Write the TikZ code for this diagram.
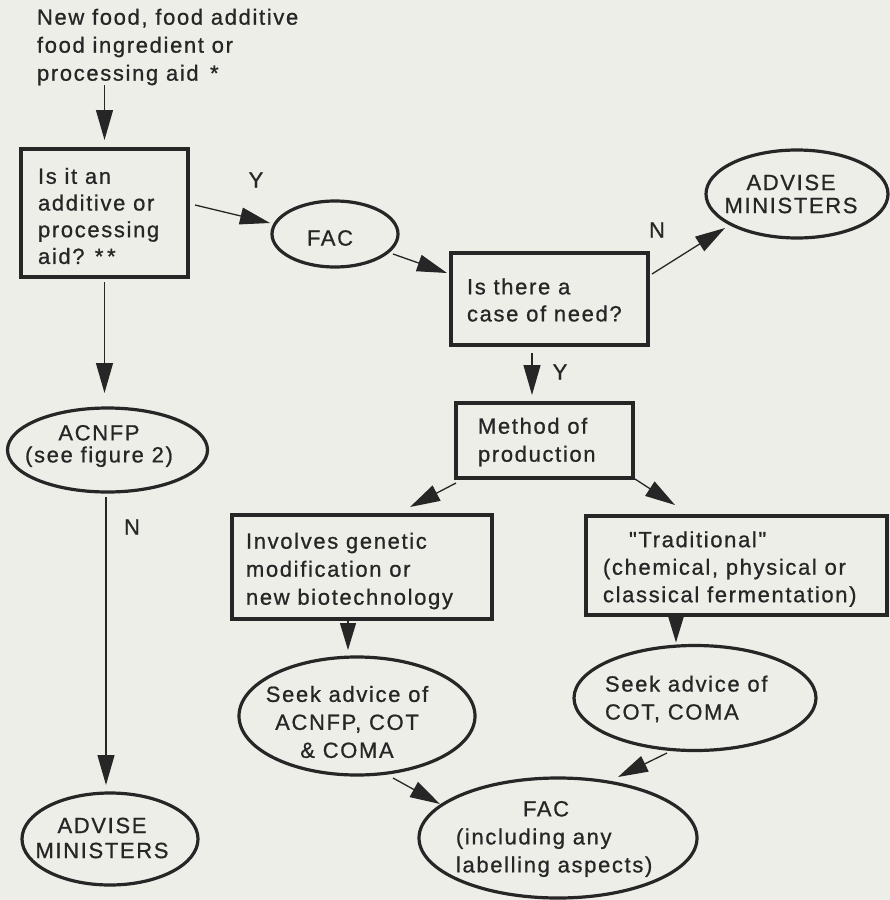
\documentclass[tikz,border=0pt]{standalone}
\usepackage{fontspec}
\setmainfont{Liberation Sans}[LetterSpace=7.5,FakeBold=0.8,Ligatures=TeXOff]
\usetikzlibrary{arrows.meta,shapes.geometric,calc}
\definecolor{paper}{HTML}{EDEEE7}
\definecolor{ink}{HTML}{262626}
\begin{document}
\begin{tikzpicture}[x=1bp,y=-1bp,
  box/.style={draw=ink, line width=3.2bp, rectangle, inner sep=0pt, outer sep=0pt},
  ell/.style={draw=ink, line width=3.2bp, ellipse, inner sep=0pt, outer sep=0pt},
  txt/.style={inner sep=0pt, outer sep=0pt, text=ink, align=left, font=\fontsize{22bp}{#1}\selectfont},
  txt/.default=27bp,
  ctxt/.style={txt=#1, align=center},
  ctxt/.default=27bp,
  lbl/.style={inner sep=0pt, text=ink, font=\fontsize{22bp}{26bp}\selectfont},
  arr/.style={draw=ink, line width=1.3bp, -{Triangle[length=30bp,width=17bp]}},
  arrs/.style={draw=ink, line width=1.3bp, -{Triangle[length=27bp,width=16bp]}}
]
\fill[paper] (0,0) rectangle (890,900);
\useasboundingbox (0,0) rectangle (890,900);

% top text
\node[txt=28bp, anchor=west] (topt) at (37,47) {New food, food additive\\food ingredient or\\processing aid \,*};

% boxes
\node[box, minimum width=167bp, minimum height=128bp] (box1) at (104.5,213) {};
\node[txt=26.7bp, anchor=west] (box1t) at (38,216) {Is it an\\additive or\\processing\\aid? *\,*};

\node[box, minimum width=197bp, minimum height=92bp] (box2) at (549.5,299) {};
\node[txt, anchor=west] (box2t) at (467,300) {Is there a\\case of need?};

\node[box, minimum width=177bp, minimum height=75bp] (box3) at (544.5,440.5) {};
\node[txt=28bp, anchor=west] (box3t) at (478,442) {Method of\\production};

\node[box, minimum width=260bp, minimum height=104bp] (box4) at (362,567) {};
\node[txt=28bp, anchor=west] (box4t) at (246,571) {Involves genetic\\modification or\\new biotechnology};

\node[box, minimum width=301bp, minimum height=99bp] (box5) at (736.5,565.5) {};
\node[txt=27.5bp, anchor=west] (box5t) at (603,569) {\hspace*{26bp}"Traditional"\\(chemical, physical or\\classical fermentation)};

% ellipses
\node[ell, minimum width=126bp, minimum height=66bp] (fac1) at (335,234) {};
\node[ctxt] (fac1t) at (330,238) {FAC};

\node[ell, minimum width=182bp, minimum height=88bp] (advTop) at (797,194) {};
\node[ctxt=23bp] (advTopt) at (791,194) {ADVISE\\MINISTERS};

\node[ell, minimum width=200bp, minimum height=84bp] (acnfp) at (107.5,450) {};
\node[ctxt=22bp] (acnfpt) at (99,446) {ACNFP\\(see figure 2)};

\node[ell, minimum width=176bp, minimum height=92bp] (advBot) at (110,839) {};
\node[ctxt=25bp] (advBott) at (102,838) {ADVISE\\MINISTERS};

\node[ell, minimum width=236bp, minimum height=118bp] (seekA) at (357,716) {};
\node[ctxt=28bp] (seekAt) at (347,722) {Seek advice of\\ACNFP, COT\\\& COMA};

\node[ell, minimum width=242bp, minimum height=105bp] (seekB) at (695,698) {};
\node[txt=28bp, anchor=west] (seekBt) at (605,699) {Seek advice of\\COT, COMA};

\node[ell, minimum width=278bp, minimum height=120bp] (fac2) at (558,838) {};
\node[txt=28bp, anchor=west] (fac2t) at (456,839) {\hspace*{67bp}FAC\\(including any\\labelling aspects)};

% labels
\node[lbl] (y1) at (256,180) {Y};
\node[lbl] (n1) at (657,230) {N};
\node[lbl] (y2) at (560,372) {Y};
\node[lbl] (n2) at (132,527) {N};

% connectors
\draw[arr] (topt.south -| box1.north) -- ([shift={(0,-9)}]box1.north);
\draw[arr] ([shift={(7,-8)}]box1.east) -- ([shift={(-2,-11)}]fac1.west);
\draw[arr] ([shift={(58,20)}]fac1.center) -- ([shift={(-4,-26)}]box2.west);
\draw[arr] ([shift={(4,-25)}]box2.east) -- ([shift={(-72,34)}]advTop.center);
\draw[arr] ([shift={(-17.5,8)}]box2.south) -- ([shift={(-12.5,-8)}]box3.north);
\draw[arr] ([shift={(0,5)}]box3.south west) -- ([shift={(48,-8)}]box4.north);
\draw[arr] ([shift={(2,1)}]box3.south east) -- ([shift={(-61.5,-11)}]box5.north);
\draw[arrs] ([shift={(-14,0)}]box4.south) -- ([shift={(-9,-7)}]seekA.north);
\draw[arrs] ([shift={(-60.5,-1)}]box5.south) -- ([shift={(-19,-3)}]seekB.north);
\draw[arr] ([shift={(36,62)}]seekA.center) -- ([shift={(-118,-34)}]fac2.center);
\draw[arr] ([shift={(-28,55)}]seekB.center) -- ([shift={(60,-61)}]fac2.center);
\draw[arr] ([shift={(0,5)}]box1.south) -- ([shift={(-3,-15)}]acnfp.north);
\draw[arr] ([shift={(-1.5,5)}]acnfp.south) -- ([shift={(-4,-8)}]advBot.north);
\end{tikzpicture}
\end{document}
